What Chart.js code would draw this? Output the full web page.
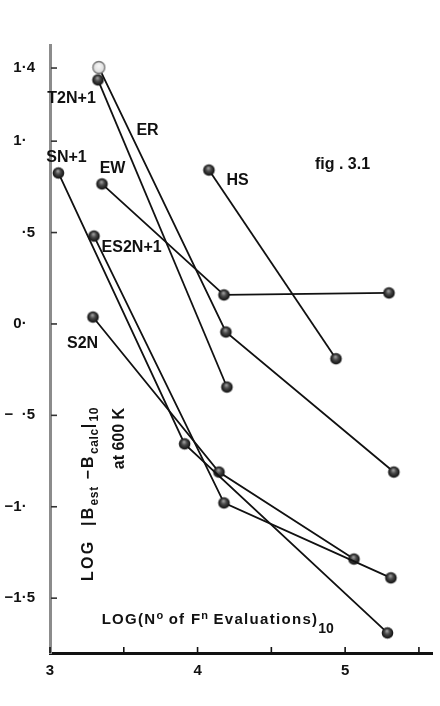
<!DOCTYPE html>
<html>
<head>
<meta charset="utf-8">
<script src="https://cdn.jsdelivr.net/npm/chart.js@4.4.1/dist/chart.umd.min.js"></script>
<style>
html,body{margin:0;padding:0;background:#fff;}
#wrap{width:440px;height:706px;position:relative;}
</style>
</head>
<body>
<div id="wrap"><canvas id="c" width="440" height="706"></canvas></div>
<script>
// ---------------- data ----------------
const seriesNames = ['T2N+1', 'ER', 'EW', 'HS', 'SN+1', 'ES2N+1', 'S2N'];

const t2n1X = [3.325, 4.199];
const t2n1Y = [1.335, -0.345];

const erX = [3.331, 4.192, 5.330];
const erY = [1.403, -0.044, -0.810];

const ewX = [3.352, 4.179, 5.297];
const ewY = [0.766, 0.159, 0.170];

const hsX = [4.077, 4.938];
const hsY = [0.842, -0.190];

const sn1X = [3.057, 3.912, 5.287];
const sn1Y = [0.826, -0.656, -1.690];

const es2n1X = [3.298, 4.179, 5.310];
const es2n1Y = [0.481, -0.979, -1.389];

const s2nX = [3.291, 4.145, 5.060];
const s2nY = [0.038, -0.810, -1.286];

const xTicks = [3, 3.5, 4, 4.5, 5, 5.5];
const xTickLabels = ['3', '', '4', '', '5', ''];
const yTicks = [-1.5, -1, -0.5, 0, 0.5, 1, 1.4];
const yTickLabels = ['\u22121\u00b75', '\u22121\u00b7\u2007', '\u2212  \u00b75', '0\u00b7\u2007', '\u00b75', '1\u00b7\u2007', '1\u00b74'];

// ---------------- layout / style ----------------
const FONT_FAMILY = '"Liberation Sans", Arial, Helvetica, sans-serif';

const labelLayout = [
  { text: seriesNames[0], x: 3.146, y: 1.231 },
  { text: seriesNames[1], x: 3.661, y: 1.056 },
  { text: seriesNames[2], x: 3.424, y: 0.848 },
  { text: seriesNames[3], x: 4.271, y: 0.782 },
  { text: seriesNames[4], x: 3.112, y: 0.908 },
  { text: seriesNames[5], x: 3.553, y: 0.416 },
  { text: seriesNames[6], x: 3.221, y: -0.109 },
  { text: 'fig . 3.1',    x: 4.982, y: 0.870 }
];

const xTitleSegs = [
  { t: 'LOG(N', k: 0 }, { t: 'o', k: 1 }, { t: ' of F', k: 0 }, { t: 'n', k: 1 },
  { t: ' Evaluations)', k: 0 }, { t: '10', k: -1 }
];
const yTitleSegs1 = [
  { t: 'LOG  |B', k: 0 }, { t: 'est', k: -1 }, { t: ' \u2212B', k: 0 }, { t: 'calc', k: -1 },
  { t: '|', k: 0 }, { t: '10', k: -1 }
];
const yTitleSegs2 = [{ t: 'at 600 K', k: 0 }];

function makeSphere(r, light) {
  const s = Math.ceil(r * 2 + 3);
  const c = document.createElement('canvas');
  c.width = s; c.height = s;
  const g = c.getContext('2d');
  const cx = s / 2, cy = s / 2;
  g.beginPath();
  g.arc(cx, cy, r, 0, Math.PI * 2);
  if (light) {
    const gr = g.createRadialGradient(cx, cy - r * 0.3, 0.5, cx, cy, r);
    gr.addColorStop(0, '#f6f6f6');
    gr.addColorStop(0.7, '#e2e2e2');
    gr.addColorStop(1, '#bdbdbd');
    g.fillStyle = gr; g.fill();
    g.lineWidth = 1.3; g.strokeStyle = '#7a7a7a'; g.stroke();
  } else {
    const gr = g.createRadialGradient(cx - r * 0.1, cy - r * 0.35, 0.5, cx, cy, r);
    gr.addColorStop(0, '#9c9c9c');
    gr.addColorStop(0.4, '#4a4a4a');
    gr.addColorStop(1, '#0c0c0c');
    g.fillStyle = gr; g.fill();
  }
  return c;
}
const darkDot = makeSphere(5.8, false);
const lightDot = makeSphere(6, true);

function pts(xs, ys) { return xs.map((v, i) => ({ x: v, y: ys[i] })); }

const seriesList = [
  { name: seriesNames[0], xs: t2n1X, ys: t2n1Y },
  { name: seriesNames[1], xs: erX, ys: erY },
  { name: seriesNames[2], xs: ewX, ys: ewY },
  { name: seriesNames[3], xs: hsX, ys: hsY },
  { name: seriesNames[4], xs: sn1X, ys: sn1Y },
  { name: seriesNames[5], xs: es2n1X, ys: es2n1Y },
  { name: seriesNames[6], xs: s2nX, ys: s2nY }
];

const datasets = seriesList.map(s => ({
  label: s.name,
  data: pts(s.xs, s.ys),
  showLine: true,
  borderColor: '#111',
  borderWidth: 1.8,
  backgroundColor: '#111',
  pointStyle: s.name === 'ER' ? s.xs.map((v, i) => i === 0 ? lightDot : darkDot) : darkDot,
  pointRadius: 6,
  pointHoverRadius: 6,
  tension: 0,
  fill: false,
  clip: false
}));

function drawRich(ctx, segs, px, py, o) {
  ctx.save();
  ctx.translate(px, py);
  if (o.rotate) ctx.rotate(o.rotate);
  ctx.textBaseline = 'alphabetic';
  ctx.textAlign = 'left';
  ctx.fillStyle = '#111';
  const sizeOf = s => s.k === 0 ? o.size : (s.k > 0 ? o.supSize : o.subSize);
  const spacingOf = s => (s.k === 0 ? (o.spacing || 0) : (o.smallSpacing || 0)) + 'px';
  let w = 0;
  const ws = segs.map(s => {
    ctx.font = `bold ${sizeOf(s)}px ${FONT_FAMILY}`;
    ctx.letterSpacing = spacingOf(s);
    const m = ctx.measureText(s.t).width;
    w += m;
    return m;
  });
  let cx = o.align === 'end' ? -w : 0;
  segs.forEach((s, i) => {
    ctx.font = `bold ${sizeOf(s)}px ${FONT_FAMILY}`;
    ctx.letterSpacing = spacingOf(s);
    const dy = s.k === 0 ? 0 : (s.k > 0 ? -o.supShift : o.subShift);
    ctx.fillText(s.t, cx, dy);
    cx += ws[i];
  });
  ctx.restore();
}

const decor = {
  id: 'decor',
  afterDraw(chart) {
    const { ctx, chartArea: a, scales: { x, y } } = chart;
    ctx.save();
    // inward tick marks
    ctx.strokeStyle = '#111';
    ctx.lineWidth = 1.6;
    xTicks.forEach(v => {
      const p = x.getPixelForValue(v);
      ctx.beginPath(); ctx.moveTo(p, a.bottom); ctx.lineTo(p, a.bottom - 6); ctx.stroke();
    });
    ctx.strokeStyle = '#333';
    yTicks.forEach(v => {
      const p = y.getPixelForValue(v);
      ctx.beginPath(); ctx.moveTo(a.left + 1, p); ctx.lineTo(a.left + 7, p); ctx.stroke();
    });
    // series labels
    ctx.fillStyle = '#111';
    ctx.font = `bold 16px ${FONT_FAMILY}`;
    ctx.textAlign = 'center';
    ctx.textBaseline = 'middle';
    labelLayout.forEach(l => ctx.fillText(l.text, x.getPixelForValue(l.x), y.getPixelForValue(l.y)));
    // x title
    drawRich(ctx, xTitleSegs, x.getPixelForValue(3.35), y.getPixelForValue(-1.641),
      { size: 15, supSize: 11, subSize: 14, supShift: 5, subShift: 9, spacing: 1.3, smallSpacing: 0 });
    // y title (rotated)
    drawRich(ctx, yTitleSegs1, x.getPixelForValue(3.289), y.getPixelForValue(-0.454),
      { size: 16, supSize: 12, subSize: 12, supShift: 5, subShift: 5, spacing: 2.3, smallSpacing: 0.6, rotate: -Math.PI / 2, align: 'end' });
    drawRich(ctx, yTitleSegs2, x.getPixelForValue(3.499), y.getPixelForValue(-0.459),
      { size: 16, supSize: 12, subSize: 12, supShift: 5, subShift: 5, spacing: 0, rotate: -Math.PI / 2, align: 'end' });
    ctx.restore();
  }
};

new Chart(document.getElementById('c'), {
  type: 'scatter',
  data: { datasets },
  options: {
    responsive: false,
    animation: false,
    devicePixelRatio: 1,
    layout: { padding: { top: 45, right: 7, left: 0, bottom: 0 } },
    plugins: { legend: { display: false }, tooltip: { enabled: false } },
    events: [],
    scales: {
      x: {
        type: 'linear',
        min: 3,
        max: 5.59,
        afterBuildTicks: s => { s.ticks = xTicks.map(v => ({ value: v })); },
        afterFit: s => { s.height = 53; },
        ticks: {
          autoSkip: false, maxRotation: 0, padding: 9,
          color: '#111',
          font: { family: FONT_FAMILY, size: 15, weight: 'bold' },
          callback: (v, i) => xTickLabels[i]
        },
        grid: { display: false, drawTicks: false, tickLength: 0 },
        border: { display: true, color: '#111', width: 3 }
      },
      y: {
        type: 'linear',
        min: -1.8,
        max: 1.526,
        afterBuildTicks: s => { s.ticks = yTicks.map(v => ({ value: v })); },
        afterFit: s => { s.width = 50; },
        ticks: {
          autoSkip: false, padding: 15,
          color: '#111',
          font: { family: FONT_FAMILY, size: 15, weight: 'bold' },
          callback: (v, i) => yTickLabels[i]
        },
        grid: { display: false, drawTicks: false, tickLength: 0 },
        border: { display: true, color: '#8c8c8c', width: 3 }
      }
    }
  },
  plugins: [decor]
});
</script>
</body>
</html>
